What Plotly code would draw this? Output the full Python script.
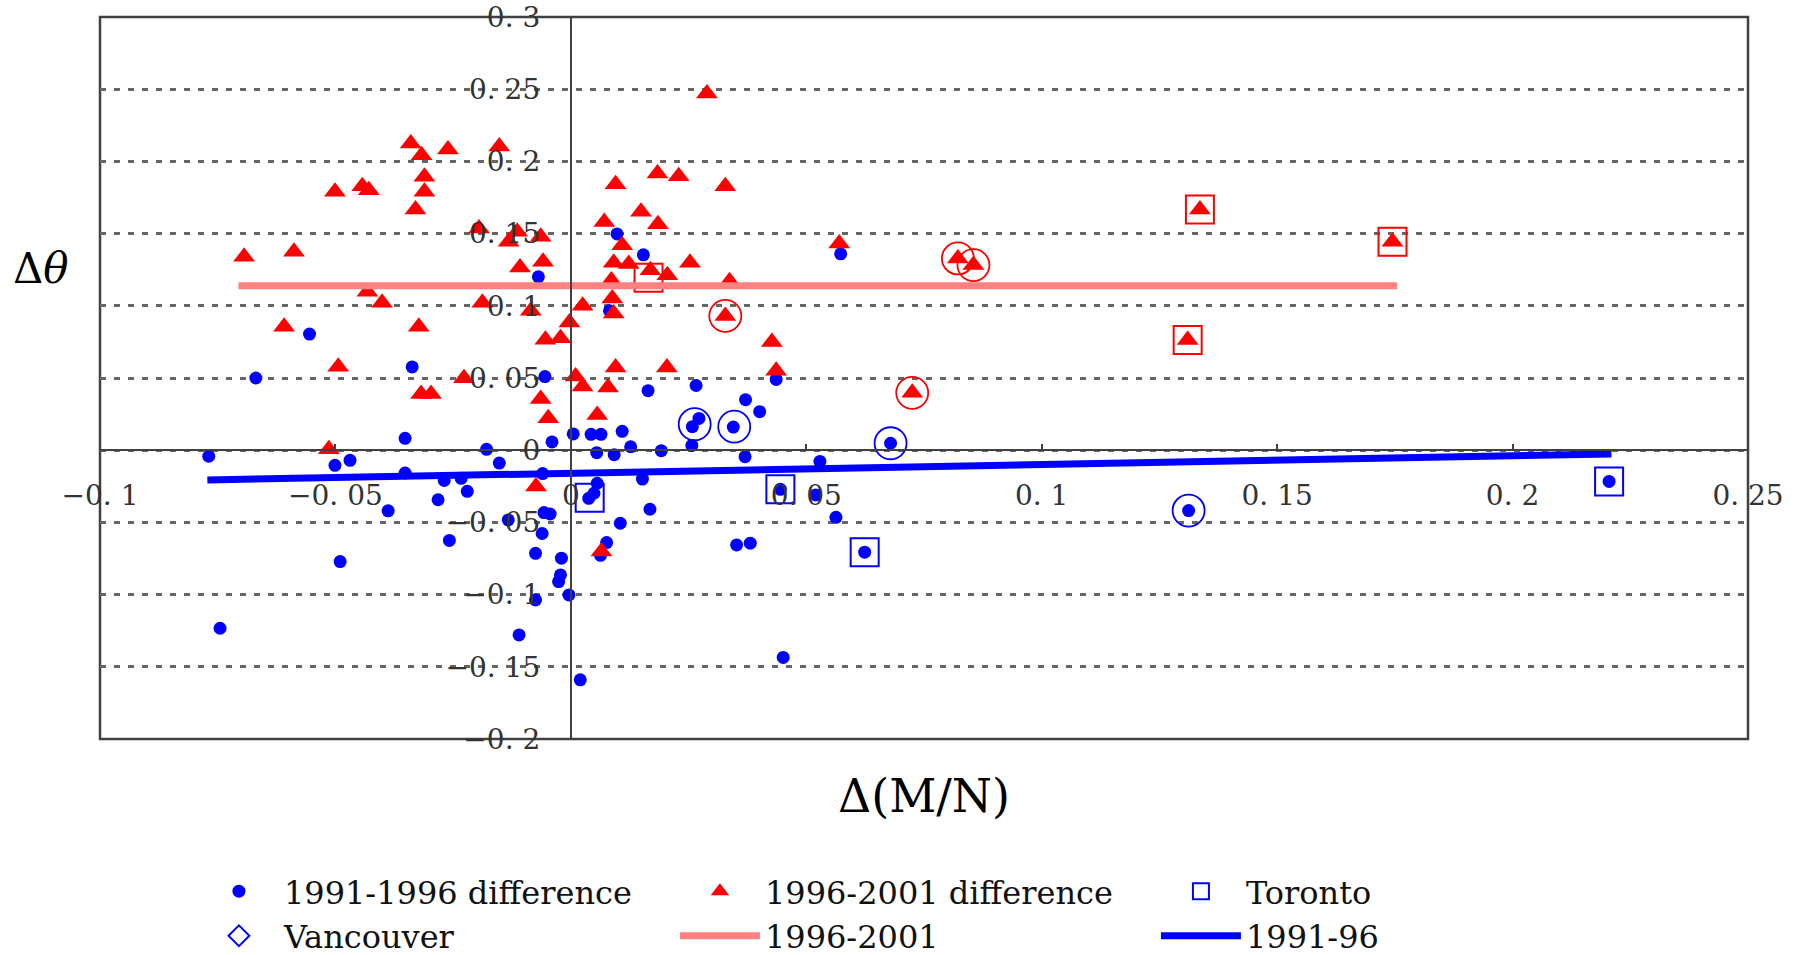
import plotly.graph_objects as go

# ---- data: 1991-1996 differences (blue dots) ----
d9196_x = [-0.0669, -0.0769, -0.0555, -0.0337, -0.0352, -0.0501, -0.0469, -0.0352, -0.0269, -0.0233,
           -0.0220, -0.0282, -0.0388, -0.0179, -0.0152, -0.0060, -0.0040, 0.0005, 0.0043, 0.0064,
           0.0109, 0.0055, 0.0092, 0.0127, 0.0192, 0.0257, 0.0370, 0.0529, 0.0679, 0.0272,
           0.0258, 0.0345, -0.0055, 0.0164, 0.0266, 0.0371, 0.0401, 0.0436, 0.0098, 0.0154,
           -0.0069, 0.0082, 0.0573, 0.0152, 0.0056, 0.0049, 0.0038, 0.0445, 0.0520, 0.0168,
           0.0563, 0.0105, -0.0133, -0.0057, -0.0044, -0.0061, -0.0258, -0.0490, -0.0075, -0.0020,
           0.0076, 0.0063, 0.0352, 0.0381, 0.0624, -0.0022, -0.0026, -0.0004, -0.0075, -0.0745,
           -0.0110, 0.0451, 0.0020, 0.1312, 0.2205]
d9196_y = [0.0500, -0.0042, 0.0804, 0.0577, 0.0082, -0.0105, -0.0070, -0.0158, -0.0210, -0.0195,
           -0.0285, -0.0343, -0.0420, 0.0006, -0.0089, -0.0162, 0.0057, 0.0113, 0.0110, 0.0110,
           0.0131, -0.0017, -0.0031, 0.0024, -0.0003, 0.0033, -0.0045, -0.0078, 0.0048, 0.0220,
           0.0163, 0.0160, 0.0510, 0.0412, 0.0448, 0.0350, 0.0267, 0.0490, 0.1498, 0.1353,
           0.1201, 0.0965, 0.1360, -0.0200, -0.0229, -0.0298, -0.0333, -0.0271, -0.0310, -0.0409,
           -0.0465, -0.0506, -0.0483, -0.0432, -0.0442, -0.0577, -0.0625, -0.0771, -0.0714, -0.0748,
           -0.0640, -0.0728, -0.0656, -0.0644, -0.0706, -0.0864, -0.0910, -0.1002, -0.1037, -0.1233,
           -0.1279, -0.1435, -0.1590, -0.0418, -0.0216]

# ---- data: 1996-2001 differences (red triangles) ----
d9601_x = [-0.0340, -0.0317, -0.0261, -0.0311, -0.0311, -0.0330, -0.0501, -0.0443, -0.0429, -0.0694,
           -0.0588, -0.0195, -0.0432, -0.0401, -0.0188, -0.0609, -0.0323, -0.0152, 0.0289, 0.0095,
           0.0184, 0.0229, 0.0328, 0.0149, 0.0071, 0.0185, -0.0114, -0.0132, -0.0064, 0.0109,
           0.0091, 0.0123, 0.0169, 0.0205, 0.0253, -0.0108, -0.0059, 0.0337, 0.0088, 0.0086,
           0.0091, 0.0025, -0.0003, 0.0328, -0.0085, 0.0570, 0.0822, 0.0855, 0.0427, 0.0436,
           0.0725, 0.0095, 0.0204, 0.0010, 0.0025, 0.0079, -0.0064, -0.0054, -0.0022, -0.0048,
           0.0056, -0.0074, -0.0494, -0.0318, -0.0297, -0.0227, -0.0514, 0.0065, 0.1336, 0.1745,
           0.1310]
d9601_y = [0.2124, 0.2043, 0.2082, 0.1893, 0.1789, 0.1667, 0.1789, 0.1828, 0.1801, 0.1339,
           0.1374, 0.1536, 0.1097, 0.1021, 0.1021, 0.0855, 0.0855, 0.2103, 0.2470, 0.1842,
           0.1916, 0.1898, 0.1828, 0.1651, 0.1581, 0.1565, 0.1512, 0.1443, 0.1478, 0.1420,
           0.1298, 0.1289, 0.1247, 0.1212, 0.1298, 0.1266, 0.1305, 0.1170, 0.1051, 0.1175,
           0.0947, 0.1000, 0.0885, 0.0930, 0.0965, 0.1431, 0.1328, 0.1282, 0.0750, 0.0550,
           0.0397, 0.0572, 0.0572, 0.0510, 0.0442, 0.0435, 0.0355, 0.0765, 0.0776, 0.0221,
           0.0244, -0.0252, 0.0578, 0.0389, 0.0389, 0.0498, 0.0006, -0.0702, 0.1667, 0.1443,
           0.0763]

# ---- highlighted cities ----
toronto_9196_x = [0.0040, 0.0445, 0.0624, 0.2205]
toronto_9196_y = [-0.0330, -0.0271, -0.0706, -0.0216]
toronto_9601_x = [0.1336, 0.1745, 0.1310, 0.0165]
toronto_9601_y = [0.1667, 0.1443, 0.0763, 0.1195]
vancouver_9196_x = [0.0263, 0.0347, 0.0679, 0.1312]
vancouver_9196_y = [0.0180, 0.0163, 0.0048, -0.0418]
vancouver_9601_x = [0.0328, 0.0725, 0.0822, 0.0855]
vancouver_9601_y = [0.0930, 0.0397, 0.1328, 0.1282]

# ---- fitted lines ----
fit_9601_x = [-0.0706, 0.1755]
fit_9601_y = [0.1138, 0.1138]
fit_9196_x = [-0.0772, 0.2210]
fit_9196_y = [-0.0206, -0.0026]

# ---- axes ----
x_ticks = [-0.1, -0.05, 0, 0.05, 0.1, 0.15, 0.2, 0.25]
x_ticktext = ["\u22120. 1", "\u22120. 05", "0", "0. 05", "0. 1", "0. 15", "0. 2", "0. 25"]
y_ticks = [-0.2, -0.15, -0.1, -0.05, 0, 0.05, 0.1, 0.15, 0.2, 0.25, 0.3]
y_ticktext = ["\u22120. 2", "\u22120. 15", "\u22120. 1", "\u22120. 05", "0", "0. 05", "0. 1",
              "0. 15", "0. 2", "0. 25", "0. 3"]

BLUE = "#0000ff"
RED = "#ff0000"
PINK = "#ff8080"
AX = "#404040"
SERIF = "DejaVu Serif"

fig = go.Figure()
fig.add_trace(go.Scatter(x=d9196_x, y=d9196_y, mode="markers", name="1991-1996 difference",
                         marker=dict(symbol="circle", size=13, color=BLUE), legendrank=1))
fig.add_trace(go.Scatter(x=d9601_x, y=d9601_y, mode="markers", name="1996-2001 difference",
                         marker=dict(symbol="triangle-up", size=19, color=RED), legendrank=2))
fig.add_trace(go.Scatter(x=toronto_9196_x, y=toronto_9196_y, mode="markers", name="Toronto",
                         marker=dict(symbol="square-open", size=28, color=BLUE,
                                     line=dict(width=2, color=BLUE)), legendrank=3))
fig.add_trace(go.Scatter(x=toronto_9601_x, y=toronto_9601_y, mode="markers", showlegend=False,
                         marker=dict(symbol="square-open", size=28, color=RED,
                                     line=dict(width=2, color=RED))))
fig.add_trace(go.Scatter(x=vancouver_9196_x, y=vancouver_9196_y, mode="markers", showlegend=False,
                         marker=dict(symbol="circle-open", size=32, color=BLUE,
                                     line=dict(width=1.8, color=BLUE))))
fig.add_trace(go.Scatter(x=vancouver_9601_x, y=vancouver_9601_y, mode="markers", showlegend=False,
                         marker=dict(symbol="circle-open", size=32, color=RED,
                                     line=dict(width=1.8, color=RED))))
fig.add_trace(go.Scatter(x=[None], y=[None], mode="markers", name="Vancouver",
                         marker=dict(symbol="diamond-open", size=16, color=BLUE,
                                     line=dict(width=2, color=BLUE)), legendrank=4))
fig.add_trace(go.Scatter(x=fit_9601_x, y=fit_9601_y, mode="lines", name="1996-2001",
                         line=dict(color=PINK, width=7), legendrank=5))
fig.add_trace(go.Scatter(x=fit_9196_x, y=fit_9196_y, mode="lines", name="1991-96",
                         line=dict(color=BLUE, width=7), legendrank=6))

fig.update_layout(
    width=1801, height=955,
    margin=dict(l=100, r=53, t=17, b=216, autoexpand=False),
    plot_bgcolor="white", paper_bgcolor="white",
    font=dict(family=SERIF, color="#222"),
    showlegend=True,
    legend=dict(orientation="h", x=0.057, xanchor="left", y=-0.173, yanchor="top",
                entrywidth=386, itemwidth=80, traceorder="normal",
                font=dict(family=SERIF, size=32, color="#111"),
                bgcolor="rgba(0,0,0,0)"),
    xaxis=dict(range=[-0.1, 0.25], anchor="free", position=0.4, automargin=False,
               tickvals=x_ticks, ticktext=x_ticktext,
               showgrid=False, zeroline=False, showline=True, linecolor=AX, linewidth=2,
               ticks="inside", ticklen=5, tickcolor=AX, tickwidth=1.5,
               ticklabelstandoff=20,
               tickfont=dict(family=SERIF, size=28, color="#333")),
    yaxis=dict(range=[-0.2, 0.3], anchor="free", position=0.1 / 0.35, automargin=False,
               tickvals=y_ticks, ticktext=y_ticktext,
               showgrid=True, gridcolor="#666666", gridwidth=2.5, griddash="6px,8px",
               zeroline=False, showline=True, linecolor=AX, linewidth=2,
               ticks="", ticklabelstandoff=24,
               tickfont=dict(family=SERIF, size=28, color="#333")),
    shapes=[dict(type="rect", xref="paper", yref="paper", x0=0, x1=1, y0=0, y1=1,
                 line=dict(color=AX, width=2.5), layer="below")],
    annotations=[
        dict(text="\u0394<i>\u03b8</i>", xref="paper", yref="paper", x=-0.036, y=0.652,
             xanchor="center", yanchor="middle",
             showarrow=False, font=dict(family=SERIF, size=42, color="#000")),
        dict(text="\u0394(M/N)", xref="paper", yref="paper", x=0.5, y=-0.079,
             xanchor="center", yanchor="middle",
             showarrow=False, font=dict(family=SERIF, size=46, color="#000")),
    ],
)

fig.write_html("out.html", config={"displayModeBar": False},
               post_script="document.body.style.margin='0';document.body.style.overflow='hidden';")
